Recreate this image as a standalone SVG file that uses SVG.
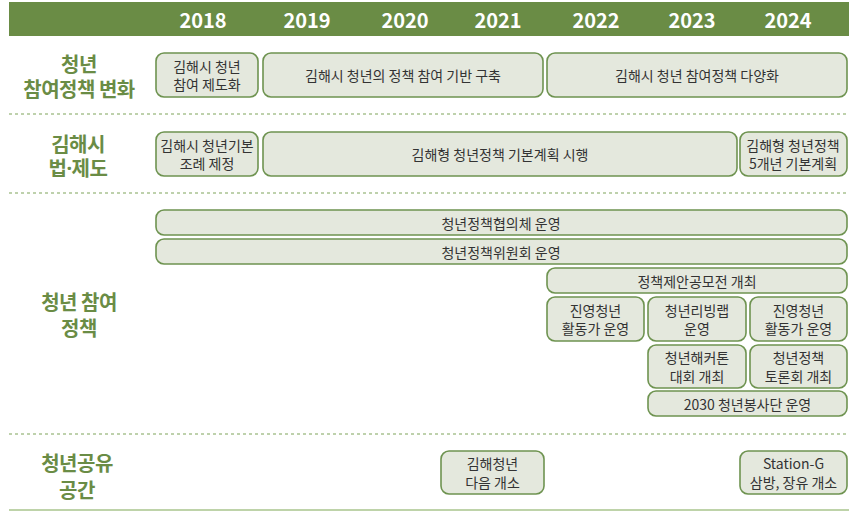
<svg xmlns="http://www.w3.org/2000/svg" width="849" height="511" viewBox="0 0 849 511">
<style>
.yr{font-family:"Noto Sans CJK KR","Noto Sans",sans-serif;font-weight:700;font-size:20px;fill:#ffffff;text-anchor:middle;dominant-baseline:central}
.cat{font-family:"Noto Sans CJK KR",sans-serif;font-weight:700;font-size:20px;fill:#6a8c45;text-anchor:middle;dominant-baseline:central;letter-spacing:-0.5px}
.box{fill:#e4e8dd;stroke:#6e9350;stroke-width:1.6}
.t{font-family:"Noto Sans CJK KR",sans-serif;font-size:14px;fill:#333333;text-anchor:middle;dominant-baseline:central}
.sep{stroke:#7fa35a;stroke-width:1.2;stroke-dasharray:3 3;fill:none}
</style>
<rect x="9" y="2" width="840" height="34" fill="#6a8c45"/>
<g id="years">
<text class="yr" x="203" y="19">2018</text>
<text class="yr" x="307" y="19">2019</text>
<text class="yr" x="405" y="19">2020</text>
<text class="yr" x="498" y="19">2021</text>
<text class="yr" x="596" y="19">2022</text>
<text class="yr" x="692" y="19">2023</text>
<text class="yr" x="788" y="19">2024</text>
</g>
<g id="separators">
<line class="sep" x1="9" y1="114" x2="849" y2="114"/>
<line class="sep" x1="9" y1="193" x2="849" y2="193"/>
<line class="sep" x1="9" y1="434" x2="849" y2="434"/>
<line x1="9" y1="510" x2="849" y2="510" stroke="#a8c48c" stroke-width="1.5"/>
</g>
<g id="categories">
<text class="cat"><tspan x="79" y="63">청년</tspan><tspan x="79" y="88">참여정책 변화</tspan></text>
<text class="cat"><tspan x="78" y="143">김해시</tspan><tspan x="78" y="167">법<tspan font-family="Noto Sans, sans-serif">·</tspan>제도</tspan></text>
<text class="cat"><tspan x="79" y="301">청년 참여</tspan><tspan x="79" y="327">정책</tspan></text>
<text class="cat"><tspan x="77" y="462">청년공유</tspan><tspan x="77" y="489">공간</tspan></text>
</g>
<g id="n1"><rect class="box" x="156" y="53" width="102" height="44" rx="8"/><text class="t"><tspan x="207" y="66">김해시 청년</tspan><tspan x="207" y="84">참여 제도화</tspan></text></g>
<g id="n2"><rect class="box" x="263" y="53" width="280" height="44" rx="8"/><text class="t" x="403" y="75">김해시 청년의 정책 참여 기반 구축</text></g>
<g id="n3"><rect class="box" x="547" y="53" width="300" height="44" rx="8"/><text class="t" x="697" y="75">김해시 청년 참여정책 다양화</text></g>
<g id="n4"><rect class="box" x="156" y="132" width="102" height="44" rx="8"/><text class="t"><tspan x="207" y="145">김해시 청년기본</tspan><tspan x="207" y="163">조례 제정</tspan></text></g>
<g id="n5"><rect class="box" x="263" y="132" width="474" height="44" rx="8"/><text class="t" x="500" y="154">김해형 청년정책 기본계획 시행</text></g>
<g id="n6"><rect class="box" x="740" y="132" width="107" height="44" rx="8"/><text class="t"><tspan x="793" y="145">김해형 청년정책</tspan><tspan x="793" y="163">5개년 기본계획</tspan></text></g>
<g id="n7"><rect class="box" x="156" y="210" width="691" height="25" rx="8"/><text class="t" x="501" y="222.5">청년정책협의체 운영</text></g>
<g id="n8"><rect class="box" x="156" y="239" width="691" height="25" rx="8"/><text class="t" x="501" y="251.5">청년정책위원회 운영</text></g>
<g id="n9"><rect class="box" x="547" y="268" width="300" height="25" rx="8"/><text class="t" x="697" y="280.5">정책제안공모전 개최</text></g>
<g id="n10"><rect class="box" x="547" y="297" width="97" height="44" rx="8"/><text class="t"><tspan x="595.5" y="310">진영청년</tspan><tspan x="595.5" y="328">활동가 운영</tspan></text></g>
<g id="n11"><rect class="box" x="648" y="297" width="98" height="44" rx="8"/><text class="t"><tspan x="697" y="310">청년리빙랩</tspan><tspan x="697" y="328">운영</tspan></text></g>
<g id="n12"><rect class="box" x="750" y="297" width="97" height="44" rx="8"/><text class="t"><tspan x="798.5" y="310">진영청년</tspan><tspan x="798.5" y="328">활동가 운영</tspan></text></g>
<g id="n13"><rect class="box" x="648" y="345" width="98" height="43" rx="8"/><text class="t"><tspan x="697" y="357">청년해커톤</tspan><tspan x="697" y="376">대회 개최</tspan></text></g>
<g id="n14"><rect class="box" x="750" y="345" width="97" height="43" rx="8"/><text class="t"><tspan x="798.5" y="357">청년정책</tspan><tspan x="798.5" y="376">토론회 개최</tspan></text></g>
<g id="n15"><rect class="box" x="648" y="391" width="199" height="25" rx="8"/><text class="t" x="747.5" y="403.5">2030 청년봉사단 운영</text></g>
<g id="n16"><rect class="box" x="441" y="451" width="103" height="43" rx="8"/><text class="t"><tspan x="492.5" y="463">김해청년</tspan><tspan x="492.5" y="482">다음 개소</tspan></text></g>
<g id="n17"><rect class="box" x="740" y="451" width="107" height="43" rx="8"/><text class="t"><tspan x="793.5" y="463">Station-G</tspan><tspan x="793.5" y="482">삼방, 장유 개소</tspan></text></g>
<g id="connectors"></g>
</svg>
